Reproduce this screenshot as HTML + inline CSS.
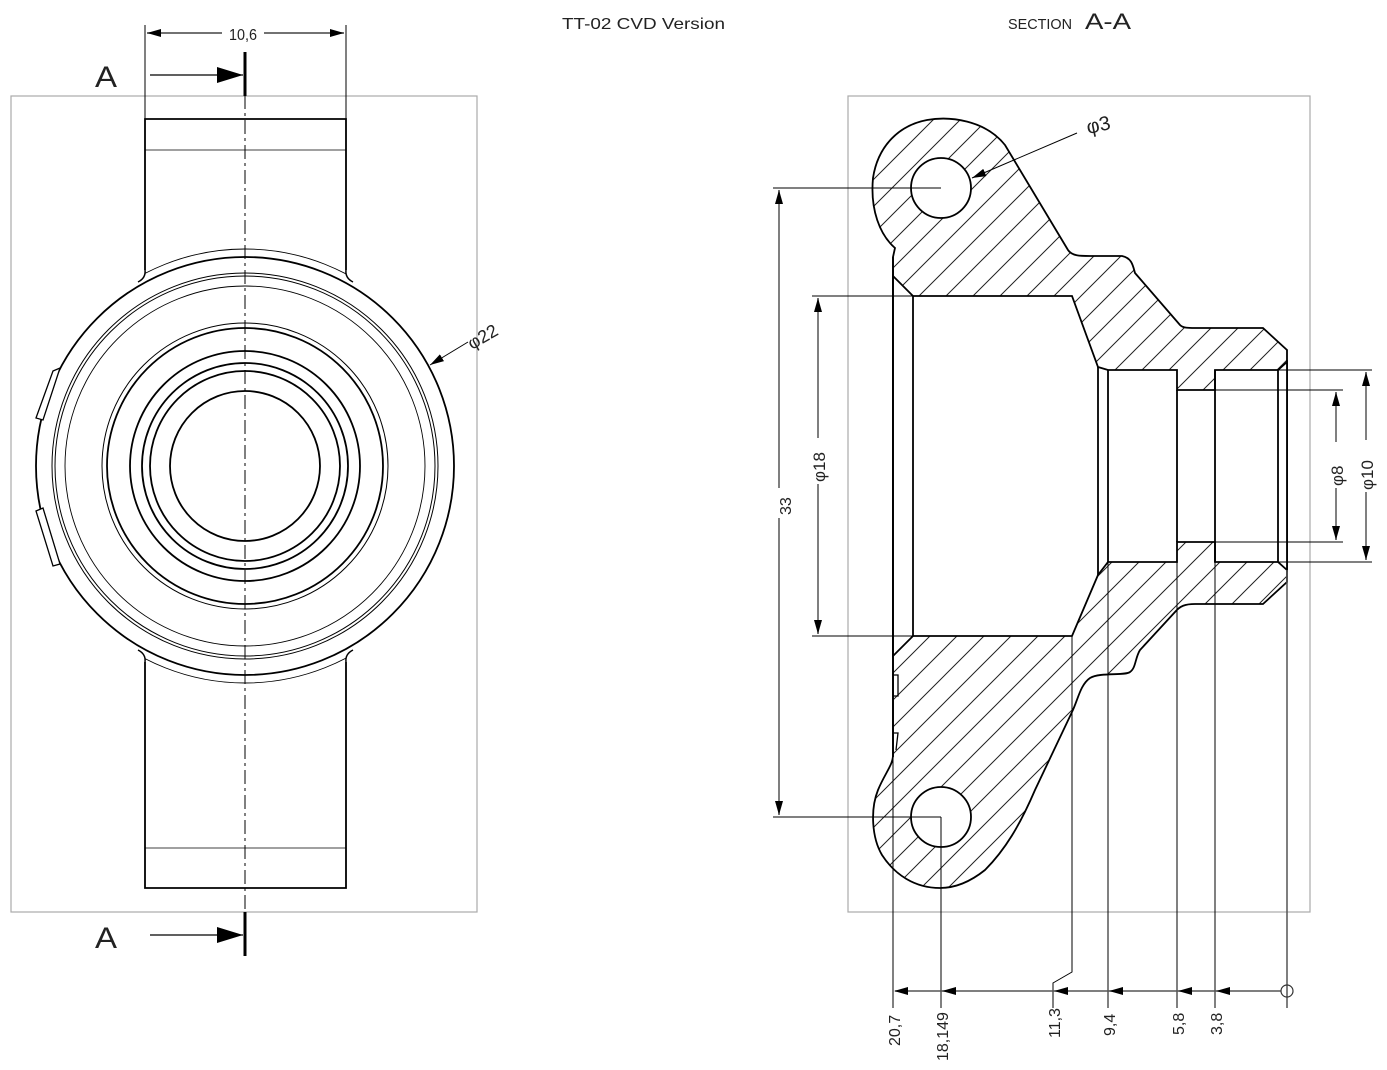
<!DOCTYPE html>
<html><head><meta charset="utf-8"><style>
html,body{margin:0;padding:0;background:#fff;}
svg{display:block;}
text{font-family:"Liberation Sans",sans-serif;fill:#222;}
</style></head><body>
<svg width="1387" height="1070" viewBox="0 0 1387 1070" xmlns="http://www.w3.org/2000/svg">
<defs>
<pattern id="h" patternUnits="userSpaceOnUse" width="27" height="27">
<path d="M-2,2 L2,-2 M0,27 L27,0 M25,29 L29,25" stroke="#222" stroke-width="1"/>
</pattern>
<marker id="ar" markerWidth="14" markerHeight="8" refX="14" refY="4" orient="auto" markerUnits="userSpaceOnUse">
<path d="M0,0 L14,4 L0,8 Z" fill="#000"/></marker>
<marker id="al" markerWidth="14" markerHeight="8" refX="0" refY="4" orient="auto" markerUnits="userSpaceOnUse">
<path d="M14,0 L0,4 L14,8 Z" fill="#000"/></marker>
<marker id="big" markerWidth="26" markerHeight="16" refX="26" refY="8" orient="auto" markerUnits="userSpaceOnUse">
<path d="M0,0 L26,8 L0,16 Z" fill="#000"/></marker>
<clipPath id="shaftclip"><rect x="145" y="0" width="201" height="1070"/></clipPath>
</defs>

<!-- titles -->
<text x="562" y="29" font-size="16" textLength="163" lengthAdjust="spacingAndGlyphs">TT-02 CVD Version</text>
<text x="1008" y="29" font-size="15" textLength="64" lengthAdjust="spacingAndGlyphs">SECTION</text>
<text x="1085" y="29" font-size="22" textLength="46" lengthAdjust="spacingAndGlyphs">A-A</text>

<!-- LEFT VIEW -->
<rect x="11" y="96" width="466" height="816" fill="none" stroke="#aaa" stroke-width="1.2"/>
<g fill="none" stroke="#000">
<line x1="145" y1="25" x2="145" y2="119" stroke-width="1"/>
<line x1="346" y1="25" x2="346" y2="119" stroke-width="1"/>
<line x1="147" y1="33" x2="222" y2="33" stroke="#444" stroke-width="1.5" marker-start="url(#al)"/>
<line x1="264" y1="33" x2="344" y2="33" stroke="#444" stroke-width="1.5" marker-end="url(#ar)"/>
<path d="M145,270 L145,119 L346,119 L346,270" stroke-width="1.8"/>
<path d="M145,662 L145,888 L346,888 L346,662" stroke-width="1.8"/>
<line x1="145" y1="150" x2="346" y2="150" stroke-width="0.8"/>
<line x1="145" y1="848" x2="346" y2="848" stroke-width="0.8"/>
<path d="M145,270 Q146,278 138,282" stroke-width="1.5"/>
<path d="M346,270 Q345,278 353,282" stroke-width="1.5"/>
<path d="M145,662 Q146,654 138,650" stroke-width="1.5"/>
<path d="M346,662 Q345,654 353,650" stroke-width="1.5"/>
<g clip-path="url(#shaftclip)"><circle cx="245" cy="466" r="217" stroke-width="0.9"/></g>
<circle cx="245" cy="466" r="209" stroke-width="1.8"/>
<circle cx="245" cy="466" r="193" stroke-width="1"/>
<circle cx="245" cy="466" r="190" stroke-width="1"/>
<circle cx="245" cy="466" r="180" stroke-width="0.9"/>
<circle cx="245" cy="466" r="143" stroke-width="1"/>
<circle cx="245" cy="466" r="138" stroke-width="1.8"/>
<circle cx="245" cy="466" r="115" stroke-width="1.8"/>
<circle cx="245" cy="466" r="103" stroke-width="1.8"/>
<circle cx="245" cy="466" r="95" stroke-width="1.8"/>
<circle cx="245" cy="466" r="75" stroke-width="1.8"/>
<path d="M53,371 L60,368 L43,420 L36,418 Z" stroke-width="1.3" fill="#fff"/>
<path d="M36,511 L43,508 L60,564 L53,566 Z" stroke-width="1.3" fill="#fff"/>
<line x1="245" y1="95" x2="245" y2="912" stroke-width="1" stroke-dasharray="14,4,3,4"/>
<line x1="245" y1="52" x2="245" y2="96" stroke-width="3"/>
<line x1="245" y1="912" x2="245" y2="956" stroke-width="3"/>
<line x1="150" y1="75" x2="243" y2="75" stroke-width="1.3" marker-end="url(#big)"/>
<line x1="150" y1="935" x2="243" y2="935" stroke-width="1.3" marker-end="url(#big)"/>
<line x1="468" y1="342" x2="430" y2="365" stroke-width="1" marker-end="url(#ar)"/>
</g>
<text x="95" y="87" font-size="30" textLength="22" lengthAdjust="spacingAndGlyphs">A</text>
<text x="95" y="948" font-size="30" textLength="22" lengthAdjust="spacingAndGlyphs">A</text>
<rect x="224" y="25" width="38" height="16" fill="#fff"/>
<text x="229" y="40" font-size="16" textLength="28" lengthAdjust="spacingAndGlyphs">10,6</text>
<text x="0" y="0" font-size="18" transform="translate(472,350) rotate(-30)">φ22</text>

<!-- RIGHT SECTION -->
<rect x="848" y="96" width="462" height="816" fill="none" stroke="#aaa" stroke-width="1.2"/>
<path d="M893,257 L895,248 C880,235 870,210 873,178 C878,145 900,125 927,120 C950,116 985,120 1005,145 L1068,250 C1072,256 1080,256 1090,256 L1122,256 C1132,258 1133,266 1135,273 L1180,325 C1183,328 1188,328 1195,328 L1263,328 L1287,350 L1287,582 L1263,604 L1195,604 C1185,604 1180,606 1175,612 L1140,650 C1135,658 1136,668 1130,672 C1125,676 1100,672 1090,678 C1080,685 1078,700 1072,712 L1035,790 C1020,825 1005,850 985,870 C970,882 955,888 940,888 C915,888 895,875 882,855 C872,838 870,810 878,790 C885,773 893,765 893,755 Z" fill="url(#h)" stroke="#000" stroke-width="1.8"/>
<path d="M893,276 L913,296 L1072,296 L1098,367 L1108,370 L1177,370 L1177,390 L1215,390 L1215,370 L1278,370 L1287,362 L1287,570 L1278,562 L1215,562 L1215,542 L1177,542 L1177,562 L1108,562 L1098,575 L1072,636 L913,636 L893,656 Z" fill="#fff" stroke="#000" stroke-width="1.8"/>
<g fill="none" stroke="#000">
<line x1="893" y1="257" x2="893" y2="757" stroke-width="1.8"/>
<line x1="913" y1="296" x2="913" y2="636" stroke-width="1.8"/>
<line x1="1098" y1="367" x2="1098" y2="575" stroke-width="1.8"/>
<line x1="1108" y1="370" x2="1108" y2="562" stroke-width="1.8"/>
<line x1="1177" y1="390" x2="1177" y2="542" stroke-width="1.8"/>
<line x1="1215" y1="370" x2="1215" y2="562" stroke-width="1.8"/>
<line x1="1278" y1="370" x2="1278" y2="562" stroke-width="1.8"/>
<path d="M893,675 L898,675 L898,696 L893,696" stroke-width="1.3"/>
<path d="M893,733 L898,733 L896,750" stroke-width="1.3"/>
</g>
<circle cx="941" cy="188" r="30" fill="#fff" stroke="#000" stroke-width="1.8"/>
<circle cx="941" cy="817" r="30" fill="#fff" stroke="#000" stroke-width="1.8"/>

<g fill="none" stroke="#000" stroke-width="1">
<line x1="1077" y1="133" x2="972" y2="178" marker-end="url(#ar)"/>
<line x1="773" y1="188" x2="941" y2="188"/>
<line x1="773" y1="817" x2="941" y2="817"/>
<line x1="941" y1="817" x2="941" y2="1008"/>
<line x1="779" y1="190" x2="779" y2="488" stroke="#555" stroke-width="1.5" marker-start="url(#al)"/>
<line x1="779" y1="518" x2="779" y2="815" stroke="#555" stroke-width="1.5" marker-end="url(#ar)"/>
<line x1="812" y1="296" x2="913" y2="296"/>
<line x1="812" y1="636" x2="913" y2="636"/>
<line x1="818" y1="298" x2="818" y2="438" stroke="#555" stroke-width="1.5" marker-start="url(#al)"/>
<line x1="818" y1="484" x2="818" y2="634" stroke="#555" stroke-width="1.5" marker-end="url(#ar)"/>
<line x1="1278" y1="370" x2="1372" y2="370"/>
<line x1="1278" y1="562" x2="1372" y2="562"/>
<line x1="1215" y1="390" x2="1343" y2="390"/>
<line x1="1215" y1="542" x2="1343" y2="542"/>
<line x1="1336" y1="392" x2="1336" y2="442" stroke="#555" stroke-width="1.5" marker-start="url(#al)"/>
<line x1="1336" y1="488" x2="1336" y2="540" stroke="#555" stroke-width="1.5" marker-end="url(#ar)"/>
<line x1="1366" y1="372" x2="1366" y2="440" stroke="#555" stroke-width="1.5" marker-start="url(#al)"/>
<line x1="1366" y1="492" x2="1366" y2="560" stroke="#555" stroke-width="1.5" marker-end="url(#ar)"/>
<line x1="893" y1="757" x2="893" y2="1008"/>
<path d="M1072,636 L1072,972 L1053,983 L1053,1008"/>
<line x1="1108" y1="562" x2="1108" y2="1008"/>
<line x1="1177" y1="562" x2="1177" y2="1008"/>
<line x1="1215" y1="562" x2="1215" y2="1008"/>
<line x1="1287" y1="570" x2="1287" y2="1008" stroke="#555" stroke-width="1.5"/>
<line x1="895" y1="991" x2="1281" y2="991" stroke="#555" stroke-width="1.5"/>
<circle cx="1287" cy="991" r="6" stroke="#333" stroke-width="1.2"/>
</g>
<g fill="#000">
<path d="M894,991 L908,987 L908,995 Z"/>
<path d="M942,991 L956,987 L956,995 Z"/>
<path d="M1054,991 L1068,987 L1068,995 Z"/>
<path d="M1109,991 L1123,987 L1123,995 Z"/>
<path d="M1178,991 L1192,987 L1192,995 Z"/>
<path d="M1216,991 L1230,987 L1230,995 Z"/>
</g>

<text x="1088" y="134" font-size="20" transform="rotate(-12 1088 134)">φ3</text>
<text font-size="16" transform="translate(791,515) rotate(-90)">33</text>
<text font-size="17" transform="translate(825,482) rotate(-90)">φ18</text>
<text font-size="17" transform="translate(1343,486) rotate(-90)">φ8</text>
<text font-size="17" transform="translate(1373,490) rotate(-90)">φ10</text>
<g font-size="16">
<text transform="translate(900,1046) rotate(-90)">20,7</text>
<text transform="translate(948,1061) rotate(-90)">18,149</text>
<text transform="translate(1060,1038) rotate(-90)">11,3</text>
<text transform="translate(1115,1036) rotate(-90)">9,4</text>
<text transform="translate(1184,1035) rotate(-90)">5,8</text>
<text transform="translate(1222,1035) rotate(-90)">3,8</text>
</g>
</svg>
</body></html>
